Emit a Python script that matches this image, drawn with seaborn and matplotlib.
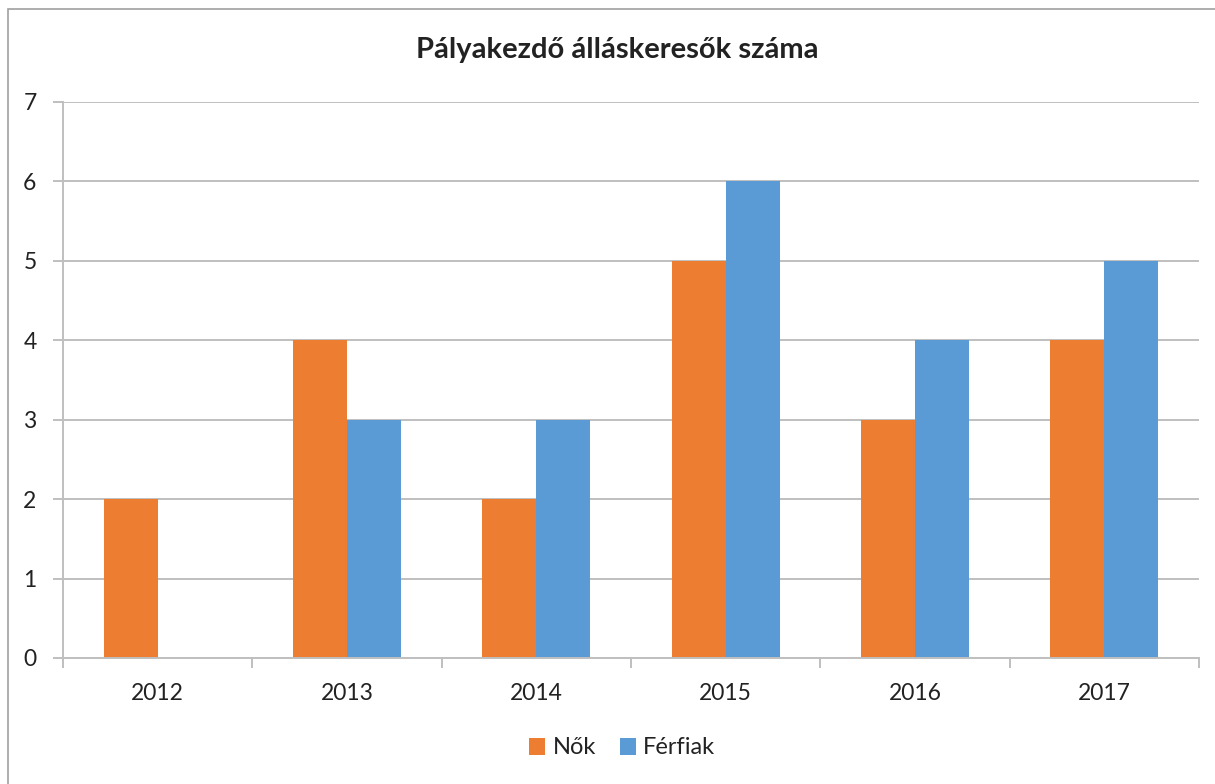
import pandas as pd
import matplotlib.pyplot as plt
import seaborn as sns
from matplotlib.patches import Rectangle

# data
years = ['2012', '2013', '2014', '2015', '2016', '2017']
nok = [2, 4, 2, 5, 3, 4]
ferfiak = [0, 3, 3, 6, 4, 5]
series_names = ['Nők', 'Férfiak']
colors = ['#ED7D31', '#5B9BD5']

df = pd.DataFrame({
    'ev': years * 2,
    'ertek': nok + ferfiak,
    'nem': [series_names[0]] * len(years) + [series_names[1]] * len(years),
})

sns.set_style('white')
plt.rcParams['font.family'] = ['Lato', 'DejaVu Sans']
txt = '#222222'
grid_c = '#BFBFBF'

fig = plt.figure(figsize=(12.15, 7.84), dpi=100)
ax = fig.add_axes([63 / 1215, 1 - 658 / 784, (1199 - 63) / 1215, (658 - 102) / 784])

sns.barplot(data=df, x='ev', y='ertek', hue='nem', palette=colors,
            width=0.57, gap=0, linewidth=0, saturation=1, ax=ax, legend=True)

ax.set_ylim(0, 7)
ax.set_xlim(-0.5, len(years) - 0.5)
ax.set_yticks(range(0, 8))
ax.yaxis.grid(True, color=grid_c, linewidth=1.4)
ax.set_axisbelow(True)
ax.set_xlabel('')
ax.set_ylabel('')

for s in ['top', 'right']:
    ax.spines[s].set_visible(False)
for s in ['left', 'bottom']:
    ax.spines[s].set_color(grid_c)
    ax.spines[s].set_linewidth(1.4)

ax.tick_params(axis='y', length=7, width=1.4, color=grid_c, labelsize=16.5, labelcolor=txt, pad=12, left=True)
ax.tick_params(axis='x', which='major', length=0, labelsize=16.5, labelcolor=txt, pad=18)
ax.set_xticks([i - 0.5 for i in range(len(years) + 1)], minor=True)
ax.tick_params(axis='x', which='minor', length=7, width=1.4, color=grid_c, bottom=True)

fig.text(0.508, 1 - 50 / 784, 'Pályakezdő álláskeresők száma', ha='center', va='center',
         fontsize=21, fontweight='bold', color=txt)

handles, labels = ax.get_legend_handles_labels()
ax.legend_.remove()
fig.legend(handles, labels, loc='center', bbox_to_anchor=(0.512, 1 - 748 / 784), ncol=2,
           frameon=False, fontsize=17, handlelength=0.7, handleheight=0.7,
           handletextpad=0.3, columnspacing=1.0, labelcolor=txt)

# chart border
fig.patches.append(Rectangle((8 / 1215, -0.01), 1.02, 1 - 9 / 784 + 0.01, transform=fig.transFigure,
                             fill=False, edgecolor='#A0A0A0', linewidth=1.2))

fig.savefig('out.png', dpi=100)
